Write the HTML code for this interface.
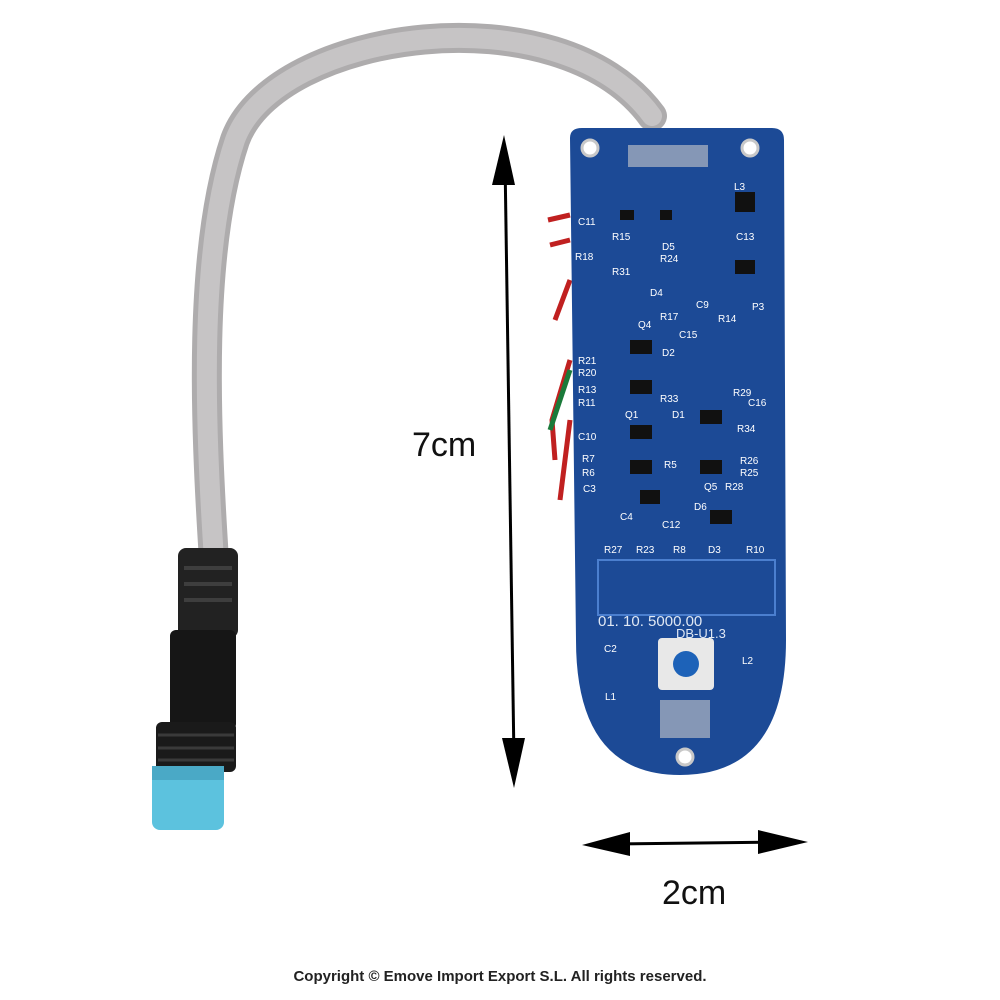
<!DOCTYPE html>
<html><head><meta charset="utf-8"><style>
html,body{margin:0;padding:0;background:#fff;}
svg{display:block;}
</style></head><body>
<svg width="1000" height="1000" viewBox="0 0 1000 1000" xmlns="http://www.w3.org/2000/svg">
<rect width="1000" height="1000" fill="#fff"/>
<!-- cable -->
<path d="M214 560 C205 420 198 250 235 140 C275 30 560 -10 652 116" fill="none" stroke="#aeacad" stroke-width="30" stroke-linecap="round"/>
<path d="M214 560 C205 420 198 250 235 140 C275 30 560 -10 652 116" fill="none" stroke="#c6c4c5" stroke-width="20" stroke-linecap="round"/>
<!-- wires -->
<path d="M570 215 L548 220 M570 240 L550 245 M570 280 L555 320 M570 360 L552 420 L555 460 M570 420 L560 500" stroke="#c02020" stroke-width="5" fill="none"/>
<path d="M570 370 L550 430" stroke="#1b7a3a" stroke-width="5"/>
<!-- connector -->
<rect x="178" y="548" width="60" height="90" rx="8" fill="#222"/>
<g stroke="#3e3e3e" stroke-width="4"><line x1="184" y1="568" x2="232" y2="568"/><line x1="184" y1="584" x2="232" y2="584"/><line x1="184" y1="600" x2="232" y2="600"/></g>
<rect x="170" y="630" width="66" height="100" rx="6" fill="#161616"/>
<rect x="156" y="722" width="80" height="50" rx="6" fill="#1a1a1a"/>
<g stroke="#3a3a3a" stroke-width="3"><line x1="158" y1="735" x2="234" y2="735"/><line x1="158" y1="748" x2="234" y2="748"/><line x1="158" y1="760" x2="234" y2="760"/></g>
<rect x="152" y="766" width="72" height="64" rx="8" fill="#5cc2de"/>
<rect x="152" y="766" width="72" height="14" fill="#4aa9c6"/>
<!-- PCB -->
<path d="M570 138 Q570 128 582 128 L772 128 Q784 128 784 140 L786 640 Q786 775 680 775 Q576 775 576 640 Z" fill="#1c4a96"/>
<path d="M598 560 L775 560 L775 615 L598 615 Z" fill="none" stroke="#4b7fcf" stroke-width="2"/>
<circle cx="590" cy="148" r="8" fill="#fff" stroke="#c8c8c8" stroke-width="3"/>
<circle cx="750" cy="148" r="8" fill="#fff" stroke="#c8c8c8" stroke-width="3"/>
<circle cx="685" cy="757" r="8" fill="#fff" stroke="#c8c8c8" stroke-width="3"/>
<g fill="#111">
<rect x="620" y="210" width="14" height="10"/><rect x="660" y="210" width="12" height="10"/><rect x="735" y="192" width="20" height="20"/>
<rect x="630" y="340" width="22" height="14"/><rect x="630" y="380" width="22" height="14"/><rect x="630" y="425" width="22" height="14"/>
<rect x="630" y="460" width="22" height="14"/><rect x="700" y="410" width="22" height="14"/><rect x="700" y="460" width="22" height="14"/>
<rect x="735" y="260" width="20" height="14"/><rect x="640" y="490" width="20" height="14"/><rect x="710" y="510" width="22" height="14"/>
</g>
<g fill="#ccc"><rect x="628" y="145" width="80" height="22" opacity="0.6"/><rect x="660" y="700" width="50" height="38" opacity="0.6"/></g>
<rect x="658" y="638" width="56" height="52" rx="4" fill="#e8e8e8"/>
<circle cx="686" cy="664" r="13" fill="#1d62b8"/>
<g fill="#fff" font-family="Liberation Sans, sans-serif" font-size="10">
<text x="578" y="225">C11</text><text x="612" y="240">R15</text><text x="575" y="260">R18</text><text x="612" y="275">R31</text>
<text x="662" y="250">D5</text><text x="660" y="262">R24</text><text x="650" y="296">D4</text><text x="660" y="320">R17</text>
<text x="638" y="328">Q4</text><text x="662" y="356">D2</text><text x="578" y="364">R21</text><text x="578" y="376">R20</text>
<text x="578" y="393">R13</text><text x="578" y="406">R11</text><text x="660" y="402">R33</text>
<text x="625" y="418">Q1</text><text x="672" y="418">D1</text><text x="578" y="440">C10</text><text x="582" y="462">R7</text>
<text x="582" y="476">R6</text><text x="664" y="468">R5</text><text x="583" y="492">C3</text><text x="620" y="520">C4</text>
<text x="662" y="528">C12</text><text x="604" y="553">R27</text><text x="636" y="553">R23</text><text x="673" y="553">R8</text>
<text x="708" y="553">D3</text><text x="746" y="553">R10</text><text x="734" y="190">L3</text><text x="736" y="240">C13</text>
<text x="696" y="308">C9</text><text x="752" y="310">P3</text><text x="718" y="322">R14</text><text x="679" y="338">C15</text>
<text x="733" y="396">R29</text><text x="748" y="406">C16</text><text x="737" y="432">R34</text><text x="740" y="464">R26</text>
<text x="740" y="476">R25</text><text x="704" y="490">Q5</text><text x="725" y="490">R28</text><text x="694" y="510">D6</text>
<text x="604" y="652">C2</text><text x="605" y="700">L1</text><text x="742" y="664">L2</text>
</g>
<text x="598" y="626" fill="#e0e8f4" font-family="Liberation Sans, sans-serif" font-size="15">01.   10.   5000.00</text>
<text x="676" y="638" fill="#e0e8f4" font-family="Liberation Sans, sans-serif" font-size="13">DB-U1.3</text>
<!-- arrows -->
<line x1="505" y1="160" x2="514" y2="760" stroke="#000" stroke-width="3"/>
<polygon points="492,185 504,135 515,185" fill="#000"/>
<polygon points="502,738 525,738 514,788" fill="#000"/>
<line x1="610" y1="844" x2="780" y2="842" stroke="#000" stroke-width="3"/>
<polygon points="630,832 582,845 630,856" fill="#000"/>
<polygon points="758,830 808,842 758,854" fill="#000"/>
<text x="412" y="456" font-family="Liberation Sans, sans-serif" font-size="34" fill="#111">7cm</text>
<text x="662" y="904" font-family="Liberation Sans, sans-serif" font-size="34" fill="#111">2cm</text>
<text x="500" y="981" text-anchor="middle" font-family="Liberation Sans, sans-serif" font-size="15" font-weight="bold" fill="#222">Copyright © Emove Import Export S.L. All rights reserved.</text>
</svg>
</body></html>
